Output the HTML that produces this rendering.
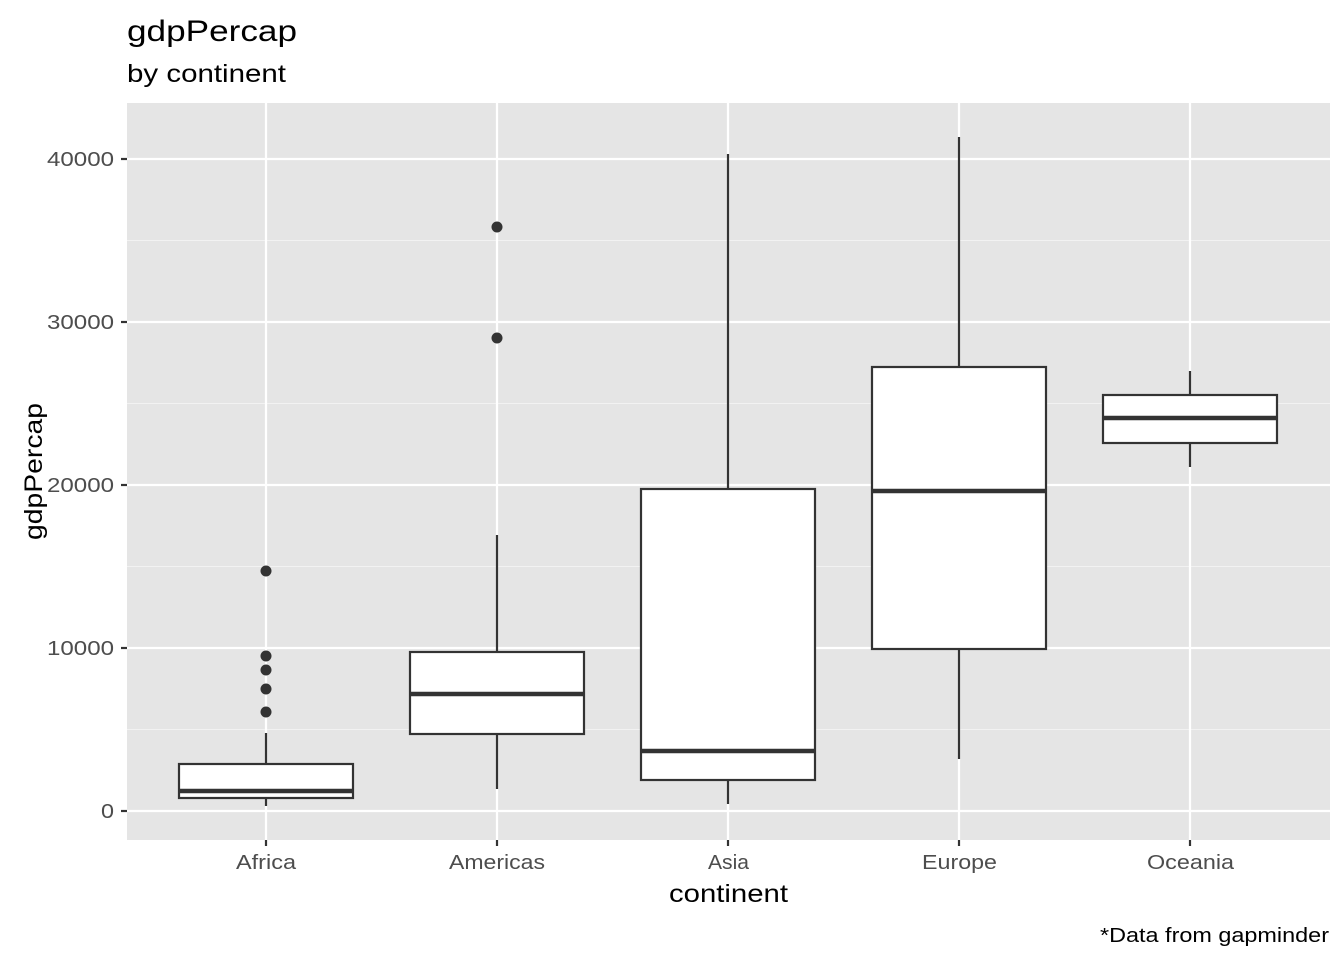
<!DOCTYPE html>
<html><head><meta charset="utf-8"><style>body{margin:0;background:#fff}</style></head>
<body>
<svg width="1344" height="960" xmlns="http://www.w3.org/2000/svg" font-family="Liberation Sans, Arial, sans-serif">
<rect x="0" y="0" width="1344" height="960" fill="#fff"/>
<rect x="127" y="103" width="1203" height="737" fill="#e5e5e5"/>
<g stroke="#f2f2f2" stroke-width="1.1">
<line x1="127" x2="1330" y1="729.5" y2="729.5"/><line x1="127" x2="1330" y1="566.5" y2="566.5"/>
<line x1="127" x2="1330" y1="403.5" y2="403.5"/><line x1="127" x2="1330" y1="240.5" y2="240.5"/>
</g>
<g stroke="#fff" stroke-width="2.2">
<line x1="127" x2="1330" y1="811" y2="811"/><line x1="127" x2="1330" y1="648" y2="648"/>
<line x1="127" x2="1330" y1="485" y2="485"/><line x1="127" x2="1330" y1="322" y2="322"/>
<line x1="127" x2="1330" y1="159" y2="159"/>
<line y1="103" y2="840" x1="266" x2="266"/><line y1="103" y2="840" x1="497" x2="497"/>
<line y1="103" y2="840" x1="728" x2="728"/><line y1="103" y2="840" x1="959" x2="959"/>
<line y1="103" y2="840" x1="1190" x2="1190"/>
</g>
<g stroke="#333" stroke-width="2.2" fill="#fff">
<line x1="266" x2="266" y1="733" y2="806"/>
<rect x="179" y="764" width="174" height="34"/>
<line x1="179" x2="353" y1="791" y2="791" stroke-width="4.4"/>
<line x1="497" x2="497" y1="535" y2="789"/>
<rect x="410" y="652" width="174" height="82"/>
<line x1="410" x2="584" y1="694" y2="694" stroke-width="4.4"/>
<line x1="728" x2="728" y1="154" y2="804"/>
<rect x="641" y="489" width="174" height="291"/>
<line x1="641" x2="815" y1="751" y2="751" stroke-width="4.4"/>
<line x1="959" x2="959" y1="137" y2="759"/>
<rect x="872" y="367" width="174" height="282"/>
<line x1="872" x2="1046" y1="491" y2="491" stroke-width="4.4"/>
<line x1="1190" x2="1190" y1="371" y2="467"/>
<rect x="1103" y="395" width="174" height="48"/>
<line x1="1103" x2="1277" y1="418" y2="418" stroke-width="4.4"/>
</g>
<g fill="#333">
<circle cx="266" cy="571" r="5.5"/><circle cx="266" cy="656" r="5.5"/><circle cx="266" cy="670" r="5.5"/>
<circle cx="266" cy="689" r="5.5"/><circle cx="266" cy="712" r="5.5"/>
<circle cx="497" cy="227" r="5.5"/><circle cx="497" cy="338" r="5.5"/>
</g>
<g stroke="#333" stroke-width="2.2">
<line x1="121" x2="127" y1="811" y2="811"/><line x1="121" x2="127" y1="648" y2="648"/>
<line x1="121" x2="127" y1="485" y2="485"/><line x1="121" x2="127" y1="322" y2="322"/>
<line x1="121" x2="127" y1="159" y2="159"/>
<line y1="840" y2="846" x1="266" x2="266"/><line y1="840" y2="846" x1="497" x2="497"/>
<line y1="840" y2="846" x1="728" x2="728"/><line y1="840" y2="846" x1="959" x2="959"/>
<line y1="840" y2="846" x1="1190" x2="1190"/>
</g>
<g fill="#4d4d4d" font-size="20">
<text x="101" y="818" textLength="13" lengthAdjust="spacingAndGlyphs">0</text>
<text x="47" y="655" textLength="67" lengthAdjust="spacingAndGlyphs">10000</text>
<text x="47" y="492" textLength="67" lengthAdjust="spacingAndGlyphs">20000</text>
<text x="47" y="329" textLength="67" lengthAdjust="spacingAndGlyphs">30000</text>
<text x="47" y="166" textLength="67" lengthAdjust="spacingAndGlyphs">40000</text>
</g>
<g fill="#4d4d4d" font-size="20">
<text x="236" y="869" textLength="60" lengthAdjust="spacingAndGlyphs">Africa</text>
<text x="449" y="869" textLength="96" lengthAdjust="spacingAndGlyphs">Americas</text>
<text x="708" y="869" textLength="41" lengthAdjust="spacingAndGlyphs">Asia</text>
<text x="922" y="869" textLength="75" lengthAdjust="spacingAndGlyphs">Europe</text>
<text x="1147" y="869" textLength="87" lengthAdjust="spacingAndGlyphs">Oceania</text>
</g>
<text x="669" y="902" font-size="25" textLength="119" lengthAdjust="spacingAndGlyphs">continent</text>
<text transform="translate(42,540) rotate(-90)" font-size="25" textLength="137" lengthAdjust="spacingAndGlyphs">gdpPercap</text>
<text x="127" y="41" font-size="30" textLength="170" lengthAdjust="spacingAndGlyphs">gdpPercap</text>
<text x="127" y="82" font-size="25" textLength="159" lengthAdjust="spacingAndGlyphs">by continent</text>
<text x="1100" y="942" font-size="20" textLength="229" lengthAdjust="spacingAndGlyphs">*Data from gapminder</text>
</svg>
</body></html>
